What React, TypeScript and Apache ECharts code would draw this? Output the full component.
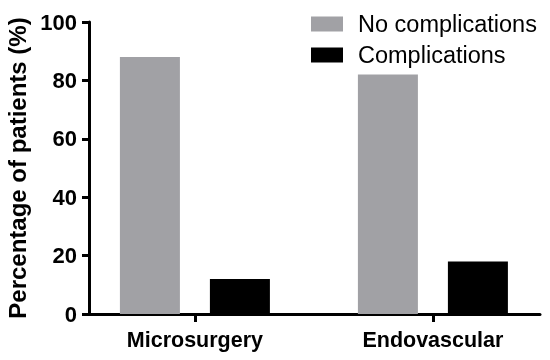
import React, { useEffect, useRef } from "react";
import * as echarts from "echarts";

const categories = ["Microsurgery", "Endovascular"];
const categoryPositions = [0, 1];
const noComplications = [88, 82];
const complications = [12, 18];
const seriesNames = ["No complications", "Complications"];

export default function App() {
  const ref = useRef<HTMLDivElement>(null);
  useEffect(() => {
    if (!ref.current) return;
    const chart = echarts.init(ref.current, null, { renderer: "svg" });
    const font = "'Liberation Sans', Arial, sans-serif";
    chart.setOption({
      animation: false,
      textStyle: { fontFamily: font },
      grid: { left: 89, right: 10, top: 22, bottom: 46, containLabel: false, outerBoundsMode: "none" },
      legend: {
        orient: "vertical",
        left: 306,
        top: 7,
        itemWidth: 32,
        itemHeight: 15,
        itemGap: 7,
        icon: "rect",
        textStyle: { fontSize: 23.5, color: "#000", fontFamily: font, padding: [0, 0, 0, 10], lineHeight: 24 },
        data: seriesNames,
      },
      xAxis: {
        type: "value",
        min: -0.445,
        max: 1.45,
        splitLine: { show: false },
        axisLine: { show: true, onZero: false, lineStyle: { color: "#000", width: 3 } },
        axisTick: { show: true, customValues: categoryPositions, length: 8, lineStyle: { color: "#000", width: 3 } },
        axisLabel: {
          customValues: categoryPositions,
          formatter: (v: number) => categories[Math.round(v)] ?? "",
          fontSize: 21.5,
          fontWeight: "bold",
          color: "#000",
          margin: 15,
          fontFamily: font,
        },
      },
      yAxis: {
        type: "value",
        min: 0,
        max: 100,
        interval: 20,
        name: "Percentage of patients (%)",
        nameLocation: "middle",
        nameGap: 53,
        nameTextStyle: { fontSize: 24, fontWeight: "bold", color: "#000", fontFamily: font },
        splitLine: { show: false },
        axisLine: { show: true, onZero: false, lineStyle: { color: "#000", width: 3 } },
        axisTick: { show: true, length: 7, lineStyle: { color: "#000", width: 3 } },
        axisLabel: {
          fontSize: 22,
          fontWeight: "bold",
          color: "#000",
          margin: 12,
          fontFamily: font,
        },
      },
      series: [
        {
          name: seriesNames[0],
          type: "bar",
          barWidth: 60,
          barGap: "50%",
          itemStyle: { color: "#a1a1a5" },
          data: categoryPositions.map((x, i) => [x, noComplications[i]]),
        },
        {
          name: seriesNames[1],
          type: "bar",
          barWidth: 60,
          barGap: "50%",
          itemStyle: { color: "#000000" },
          data: categoryPositions.map((x, i) => [x, complications[i]]),
        },
      ],
    });
    return () => chart.dispose();
  }, []);
  return <div ref={ref} style={{ position: "fixed", left: 0, top: 0, width: 550, height: 360 }} />;
}
